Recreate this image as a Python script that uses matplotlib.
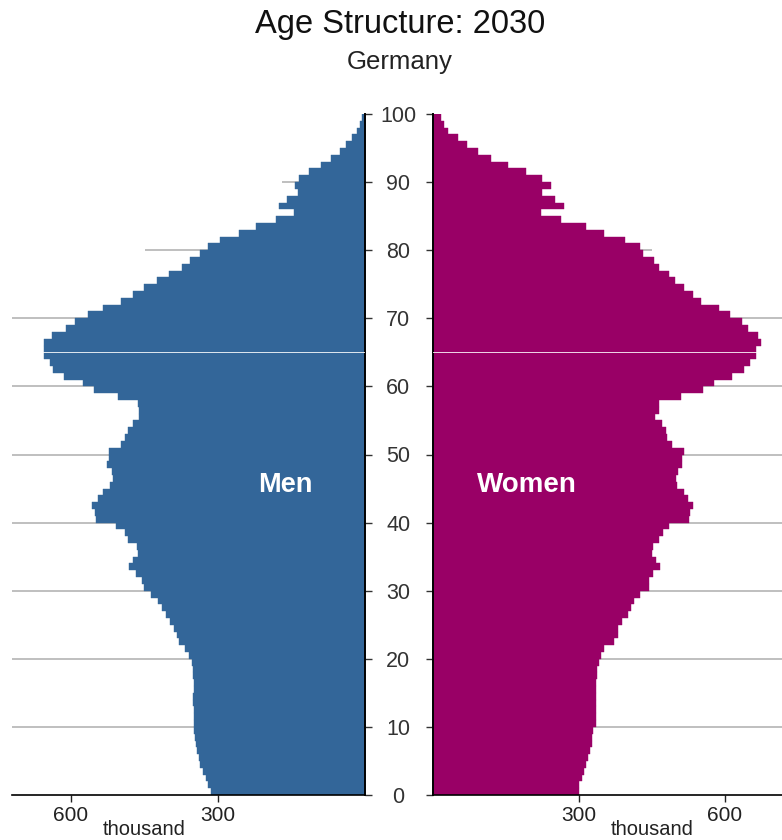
import matplotlib
matplotlib.use('Agg')
import matplotlib.pyplot as plt
import numpy as np

plt.rcParams['font.family'] = ['Liberation Sans', 'DejaVu Sans']

# Population by single year of age, thousands
ages = np.arange(0, 100)
men = [314, 320, 325, 331, 336, 339, 342, 345, 347, 348,
       350, 350, 350, 351, 351, 350, 350, 351, 352, 353,
       359, 367, 380, 384, 389, 397, 407, 414, 422, 437,
       452, 456, 467, 481, 474, 463, 466, 483, 490, 508,
       550, 551, 557, 544, 534, 520, 515, 517, 527, 522,
       522, 497, 490, 483, 474, 461, 461, 463, 505, 554,
       576, 614, 636, 643, 655, 655, 655, 639, 610, 592,
       565, 535, 497, 474, 451, 425, 399, 373, 357, 337,
       321, 295, 257, 222, 182, 145, 175, 160, 137, 142,
       135, 115, 90, 70, 52, 38, 26, 17, 10, 6]
women = [301, 301, 306, 311, 316, 320, 323, 327, 327, 330,
         335, 335, 335, 335, 335, 335, 335, 338, 338, 342,
         346, 352, 373, 380, 380, 388, 402, 407, 414, 426,
         445, 445, 452, 467, 459, 450, 452, 464, 474, 486,
         527, 529, 534, 525, 516, 503, 499, 505, 512, 513,
         516, 491, 482, 479, 471, 457, 464, 464, 510, 555,
         577, 616, 640, 653, 664, 664, 675, 668, 647, 635,
         611, 589, 551, 535, 516, 498, 486, 464, 455, 433,
         426, 396, 351, 316, 263, 222, 270, 252, 225, 244,
         225, 192, 154, 120, 93, 71, 53, 32, 23, 17]
age_ticks = [0, 10, 20, 30, 40, 50, 60, 70, 80, 90, 100]
x_ticks = [300, 600]

men_color = '#336699'
women_color = '#990066'
grid_color = '#b4b4b4'
x_max = 720

fig = plt.figure(figsize=(7.82, 8.4), dpi=100)
ax_m = fig.add_axes([12.2 / 782, 45 / 840, 352.8 / 782, 681 / 840])
ax_w = fig.add_axes([432.7 / 782, 45 / 840, 350.4 / 782, 681 / 840])

# grid lines sit behind the bars; the upper two are drawn shorter
grid_extent = {80: 450, 90: 170}
for ax in (ax_m, ax_w):
    for a in age_ticks[1:-1]:
        ax.hlines(a, 0, grid_extent.get(a, x_max), color=grid_color,
                  lw=1.2, zorder=0)

ax_m.barh(ages, men, height=1, align='edge', color=men_color,
          edgecolor=men_color, lw=0.3, zorder=2)
ax_w.barh(ages, women, height=1, align='edge', color=women_color,
          edgecolor=women_color, lw=0.3, zorder=2)

# thin white marker line at age 65
for ax in (ax_m, ax_w):
    ax.axhline(65, color='white', lw=0.7, alpha=0.85, zorder=3)

ax_m.set_xlim(x_max, 0)
ax_w.set_xlim(0, x_max)
for ax in (ax_m, ax_w):
    ax.set_ylim(0, 100)
    ax.set_xticks(x_ticks)
    ax.set_xticklabels([str(v) for v in x_ticks])
    ax.set_yticks(age_ticks)
    ax.spines['top'].set_visible(False)
    ax.spines['bottom'].set_linewidth(1.2)
    ax.tick_params(axis='x', direction='out', length=5, width=1,
                   labelsize=15, pad=3, colors='#222222')
    ax.annotate('thousand', xy=(450, 0), xycoords=('data', 'axes fraction'),
                xytext=(0, -25), textcoords='offset points',
                ha='center', va='center', fontsize=14.5, color='#222222')

ax_m.spines['left'].set_visible(False)
ax_m.spines['right'].set_linewidth(1.4)
ax_m.yaxis.tick_right()
ax_m.tick_params(axis='y', direction='out', length=5, width=1,
                 labelsize=15.5, pad=19, colors='#333333')
for t in ax_m.yaxis.get_major_ticks():
    t.label2.set_horizontalalignment('center')

ax_w.spines['right'].set_visible(False)
ax_w.spines['left'].set_linewidth(1.4)
ax_w.tick_params(axis='y', direction='out', length=5, width=1,
                 labelleft=False, colors='#333333')

ax_m.text(163, 45.5, 'Men', color='white', fontsize=19.5,
          fontweight='bold', ha='center', va='center', zorder=4)
ax_w.text(194, 45.5, 'Women', color='white', fontsize=20,
          fontweight='bold', ha='center', va='center', zorder=4)

fig.text(0.5115, 0.961, 'Age Structure: 2030', ha='center',
         va='baseline', fontsize=23.5, color='#111111')
fig.text(0.511, 0.918, 'Germany', ha='center', va='baseline',
         fontsize=18.5, color='#222222')

fig.savefig('out.png', dpi=100)
